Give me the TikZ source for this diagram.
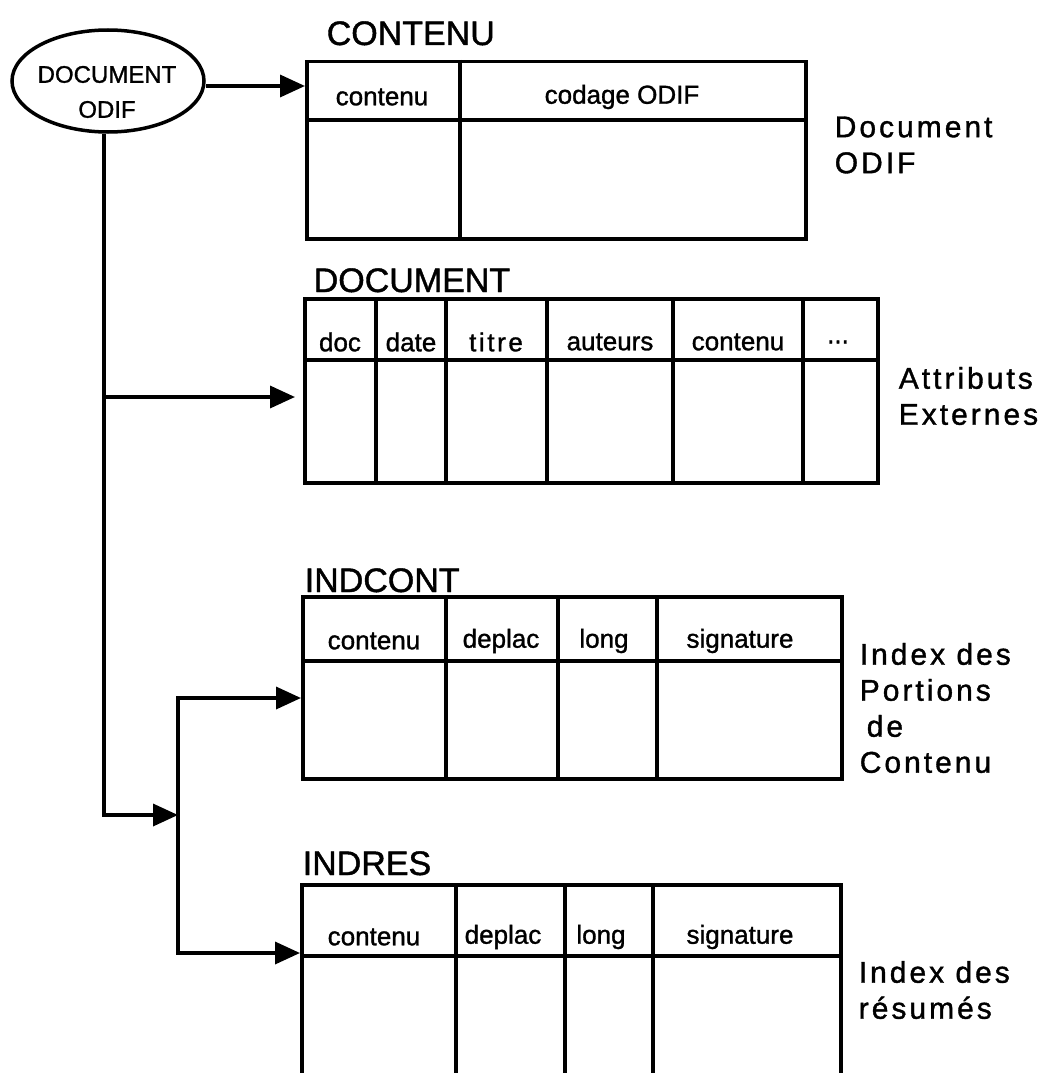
\documentclass[tikz,border=0pt]{standalone}
\usepackage{fontspec}
\setmainfont[FakeBold=1.2]{Liberation Sans}
\newfontfamily\spacedfont[LetterSpace=10,FakeBold=1.2]{Liberation Sans}
\usetikzlibrary{arrows.meta}
\usetikzlibrary{shapes.geometric}
\usetikzlibrary{positioning}

\begin{document}
\begin{tikzpicture}[x=1pt,y=-1pt,line width=3.5pt,
        box/.style={draw,rectangle,inner sep=0pt,anchor=north west},
        cell/.style={font=\fontsize{26}{30}\selectfont,inner sep=0pt},
        title/.style={font=\fontsize{34}{40}\selectfont,anchor=base west,inner sep=0pt},
        side/.style={font=\spacedfont\fontsize{30}{36}\selectfont,align=left,anchor=west,inner sep=0pt},
        link/.style={-{Triangle[length=25pt,width=22pt]}}]
    \useasboundingbox (0,0) rectangle (1059,1073);
    \clip (0,0) rectangle (1059,1073);

    % document ODIF
    \node[draw,ellipse,minimum width=192pt,minimum height=102pt,inner sep=0pt] (odif) at (108,81) {};
    \node[font=\fontsize{24}{35}\selectfont,align=center,inner sep=0pt] (odiftext) at (107,92) {DOCUMENT\\ODIF};

    % table CONTENU
    \node[box,minimum width=499pt,minimum height=177pt] (contenu) at (305,60) {};
    \node[title] (contenuT) at ([xshift=20pt,yshift=15pt]contenu.north west) {CONTENU};
    \draw (305,120) -- (804,120);
    \draw (460,60) -- (460,237);
    \node[cell] (contenu-1) at (382,97) {contenu};
    \node[cell] (contenu-2) at (622,97) {codage ODIF};
    \node[side] (contenuS) at (833,145) {\fontsize{30}{35}\selectfont Document\\ODIF};

    % table DOCUMENT
    \node[box,minimum width=573pt,minimum height=184pt] (document) at (303,297) {};
    \node[title] (documentT) at ([xshift=9pt,yshift=5pt]document.north west) {DOCUMENT};
    \draw (303,360) -- (876,360);
    \foreach \x in {376,446,547,673,803} {
        \draw (\x,297) -- (\x,481);
    }
    \foreach \x/\t [count=\i] in {340/doc,411/date,496/{\spacedfont titre},610/auteurs,738/contenu,838/{.{}.{}.}} {
        \node[cell] (document-\i) at (\x,342) {\t};
    }
    \node[side] (documentS) at (897,396) {\fontsize{30}{35}\selectfont Attributs\\Externes};

    % table INDCONT
    \node[box,minimum width=539pt,minimum height=182pt] (indcont) at (301,595) {};
    \node[title] (indcontT) at ([xshift=2pt,yshift=3pt]indcont.north west) {INDCONT};
    \draw (301,661) -- (840,661);
    \foreach \x in {446,558,657} {
        \draw (\x,595) -- (\x,777);
    }
    \foreach \x/\t [count=\i] in {374/contenu,501/deplac,604/long,740/signature} {
        \node[cell] (indcont-\i) at (\x,641) {\t};
    }
    \node[side] (indcontS) at (858,708) {\fontsize{30}{40}\selectfont Index des\\Portions\\\hspace{7pt}de\\Contenu};

    % table INDRES
    \node[box,minimum width=539pt,minimum height=210pt] (indres) at (300,883) {};
    \node[title] (indresT) at ([xshift=1pt,yshift=8pt]indres.north west) {INDRES};
    \draw (300,956) -- (839,956);
    \foreach \x in {456,565,653} {
        \draw (\x,883) -- (\x,1093);
    }
    \foreach \x/\t [count=\i] in {374/contenu,503/deplac,601/long,740/signature} {
        \node[cell] (indres-\i) at (\x,937) {\t};
    }
    \node[side] (indresS) at (857,990) {\fontsize{30}{36}\selectfont Index des\\r\'esum\'es};

    % liens
    \coordinate (trunk) at ([xshift=-4pt]odif.south);
    \coordinate (fork) at (trunk |- 0,397);
    \coordinate (split) at (178,815);
    \coordinate (upper) at (178,698);
    \coordinate (lower) at (178,953);
    \draw[link] ([yshift=-5pt]odif.east) -- ([yshift=-5pt]odif.east -| contenu.west);
    \draw[link] (trunk) |- (split);
    \draw[link,shorten >=8pt] (fork) -- (fork -| document.west);
    \draw[{Triangle[length=25pt,width=22pt]}-{Triangle[length=25pt,width=22pt]}]
        (upper -| indcont.west) -- (upper) -- (lower) -- (lower -| indres.west);
\end{tikzpicture}
\end{document}
